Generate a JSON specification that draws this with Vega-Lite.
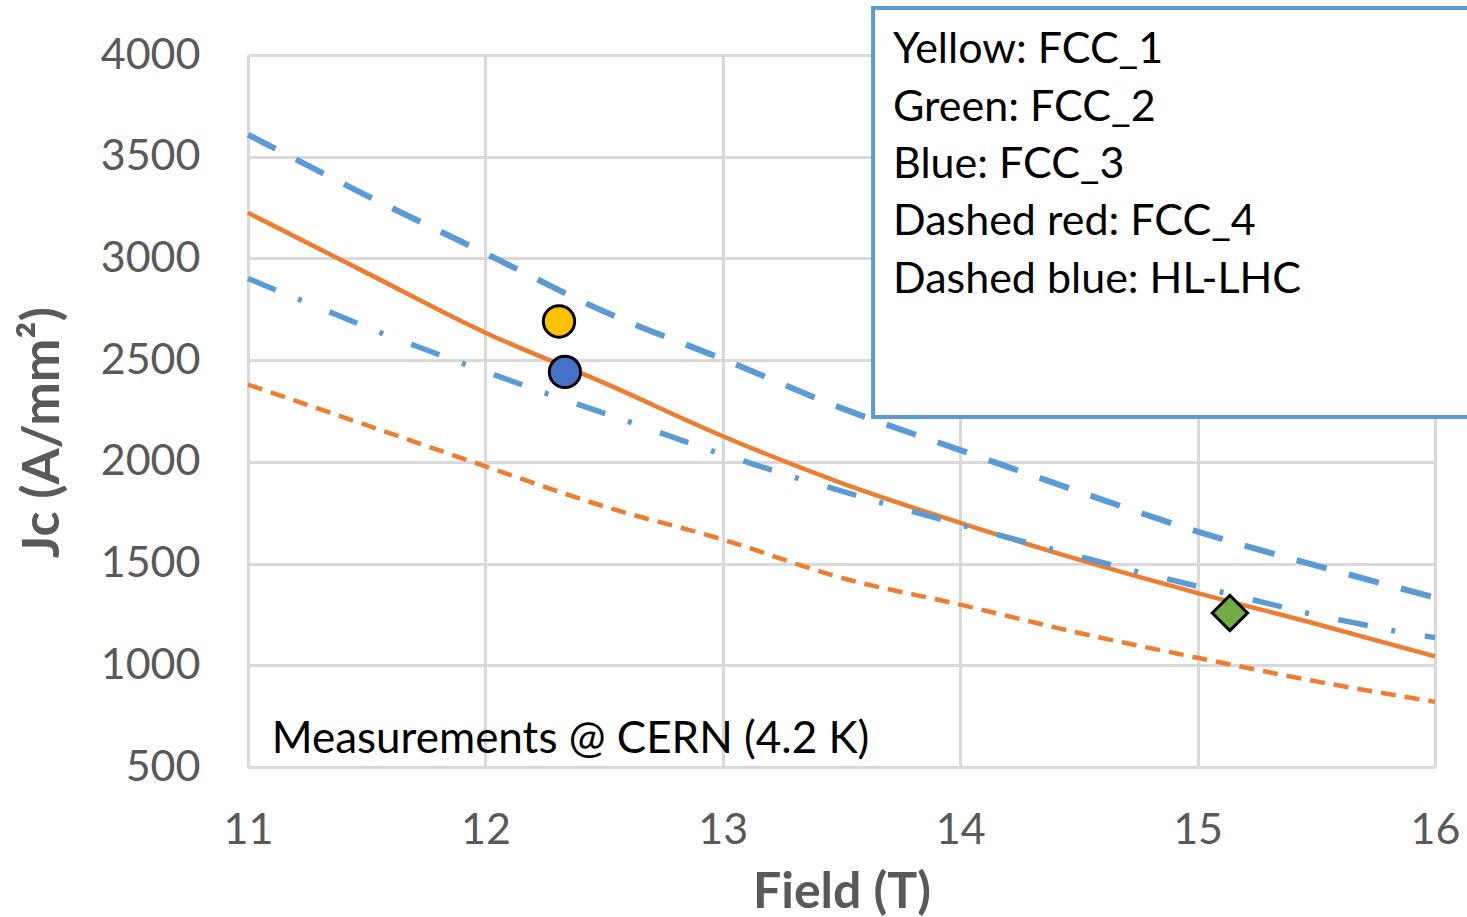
{
  "$schema": "https://vega.github.io/schema/vega-lite/v6.json",
  "width": 1187,
  "height": 712,
  "autosize": {"type": "none"},
  "padding": {"left": 248, "top": 55, "right": 32, "bottom": 150},
  "background": "white",
  "config": {"view": {"stroke": null}, "font": "Lato"},
  "datasets": {
    "curves": [
      {"series": "FCC_4", "field": 11, "jc": 2380},
      {"series": "FCC_4", "field": 11.5, "jc": 2180},
      {"series": "FCC_4", "field": 12, "jc": 1978},
      {"series": "FCC_4", "field": 12.5, "jc": 1781},
      {"series": "FCC_4", "field": 13, "jc": 1618},
      {"series": "FCC_4", "field": 13.5, "jc": 1430},
      {"series": "FCC_4", "field": 14, "jc": 1298},
      {"series": "FCC_4", "field": 14.5, "jc": 1159},
      {"series": "FCC_4", "field": 15, "jc": 1037},
      {"series": "FCC_4", "field": 15.5, "jc": 921},
      {"series": "FCC_4", "field": 16, "jc": 820},
      {"series": "solid", "field": 11, "jc": 3224},
      {"series": "solid", "field": 11.5, "jc": 2929},
      {"series": "solid", "field": 12, "jc": 2635},
      {"series": "solid", "field": 12.5, "jc": 2388},
      {"series": "solid", "field": 13, "jc": 2126},
      {"series": "solid", "field": 13.5, "jc": 1896},
      {"series": "solid", "field": 14, "jc": 1700},
      {"series": "solid", "field": 14.5, "jc": 1519},
      {"series": "solid", "field": 15, "jc": 1355},
      {"series": "solid", "field": 15.5, "jc": 1203},
      {"series": "solid", "field": 16, "jc": 1044},
      {"series": "dashdot", "field": 11, "jc": 2901},
      {"series": "dashdot", "field": 11.226, "jc": 2793},
      {"series": "dashdot", "field": 11.57, "jc": 2629},
      {"series": "dashdot", "field": 11.918, "jc": 2478},
      {"series": "dashdot", "field": 12.269, "jc": 2331},
      {"series": "dashdot", "field": 12.62, "jc": 2191},
      {"series": "dashdot", "field": 12.966, "jc": 2049},
      {"series": "dashdot", "field": 13.325, "jc": 1916},
      {"series": "dashdot", "field": 13.679, "jc": 1795},
      {"series": "dashdot", "field": 14.034, "jc": 1680},
      {"series": "dashdot", "field": 14.393, "jc": 1569},
      {"series": "dashdot", "field": 14.756, "jc": 1457},
      {"series": "dashdot", "field": 15.115, "jc": 1356},
      {"series": "dashdot", "field": 15.473, "jc": 1253},
      {"series": "dashdot", "field": 15.836, "jc": 1167},
      {"series": "dashdot", "field": 16, "jc": 1136},
      {"series": "HL-LHC", "field": 11, "jc": 3609},
      {"series": "HL-LHC", "field": 11.5, "jc": 3309},
      {"series": "HL-LHC", "field": 12, "jc": 3025},
      {"series": "HL-LHC", "field": 12.5, "jc": 2739},
      {"series": "HL-LHC", "field": 13, "jc": 2505},
      {"series": "HL-LHC", "field": 13.5, "jc": 2264},
      {"series": "HL-LHC", "field": 14, "jc": 2058},
      {"series": "HL-LHC", "field": 14.5, "jc": 1854},
      {"series": "HL-LHC", "field": 15, "jc": 1657},
      {"series": "HL-LHC", "field": 15.5, "jc": 1490},
      {"series": "HL-LHC", "field": 16, "jc": 1333}
    ],
    "points": [
      {"name": "FCC_1", "field": 12.31, "jc": 2690},
      {"name": "FCC_3", "field": 12.335, "jc": 2442},
      {"name": "FCC_2", "field": 15.136, "jc": 1257}
    ],
    "box": [
      {"field": 13.633, "field2": 16.23, "jc": 4231, "jc2": 2220}
    ],
    "legendtext": [
      {"label": "Yellow: FCC_1", "field": 13.717, "jc": 3960},
      {"label": "Green: FCC_2", "field": 13.717, "jc": 3678},
      {"label": "Blue: FCC_3", "field": 13.717, "jc": 3395},
      {"label": "Dashed red: FCC_4", "field": 13.717, "jc": 3113},
      {"label": "Dashed blue: HL-LHC", "field": 13.717, "jc": 2830}
    ],
    "note": [
      {"label": "Measurements @ CERN (4.2 K)", "field": 11.1, "jc": 569}
    ]
  },
  "encoding": {
    "x": {
      "field": "field",
      "type": "quantitative",
      "scale": {"domain": [11, 16], "nice": false, "zero": false},
      "axis": {
        "title": "Field (T)",
        "values": [11, 12, 13, 14, 15, 16],
        "grid": true,
        "gridColor": "#d9d9d9",
        "gridWidth": 3,
        "domain": false,
        "ticks": false,
        "tickSize": 0,
        "labelPadding": 42,
        "labelFont": "Lato",
        "labelFontSize": 43,
        "labelColor": "#595959",
        "labelFlush": false,
        "titleFont": "Lato",
        "titleFontSize": 50,
        "titleFontWeight": "bold",
        "titleColor": "#595959",
        "titleBaseline": "alphabetic",
        "titleY": 140
      }
    },
    "y": {
      "field": "jc",
      "type": "quantitative",
      "scale": {"domain": [500, 4000], "nice": false, "zero": false},
      "axis": {
        "title": "Jc (A/mm²)",
        "format": "d",
        "values": [500, 1000, 1500, 2000, 2500, 3000, 3500, 4000],
        "grid": true,
        "gridColor": "#d9d9d9",
        "gridWidth": 3,
        "domain": false,
        "ticks": false,
        "tickSize": 0,
        "labelPadding": 48,
        "labelFont": "Lato",
        "labelFontSize": 43,
        "labelColor": "#595959",
        "labelFlush": false,
        "titleFont": "Lato",
        "titleFontSize": 52,
        "titleFontWeight": "bold",
        "titleColor": "#595959",
        "titleAngle": 270,
        "titleAlign": "center",
        "titleBaseline": "alphabetic",
        "titleX": -190,
        "titleY": 377
      }
    }
  },
  "layer": [
    {
      "data": {"name": "curves"},
      "transform": [{"filter": "datum.series === 'FCC_4'"}],
      "mark": {"type": "line", "color": "#ED7D31", "strokeWidth": 4.5, "strokeDash": [15, 9], "interpolate": "monotone"},
      "encoding": {}
    },
    {
      "data": {"name": "curves"},
      "transform": [{"filter": "datum.series === 'solid'"}],
      "mark": {"type": "line", "color": "#ED7D31", "strokeWidth": 4.5, "interpolate": "monotone"},
      "encoding": {}
    },
    {
      "data": {"name": "curves"},
      "transform": [{"filter": "datum.series === 'dashdot'"}],
      "mark": {"type": "line", "color": "#5B9BD5", "strokeWidth": 5.5, "strokeDash": [30, 24, 4, 30]},
      "encoding": {}
    },
    {
      "data": {"name": "curves"},
      "transform": [{"filter": "datum.series === 'HL-LHC'"}],
      "mark": {"type": "line", "color": "#5B9BD5", "strokeWidth": 6, "strokeDash": [31, 23], "interpolate": "monotone"},
      "encoding": {}
    },
    {
      "data": {"name": "points"},
      "transform": [{"filter": "datum.name !== 'FCC_2'"}],
      "mark": {"type": "point", "shape": "circle", "filled": true, "stroke": "black", "strokeWidth": 3, "size": 980, "opacity": 1},
      "encoding": {
        "color": {
          "field": "name",
          "type": "nominal",
          "scale": {"domain": ["FCC_1", "FCC_2", "FCC_3"], "range": ["#FFC000", "#70AD47", "#4472C4"]},
          "legend": null
        }
      }
    },
    {
      "data": {"name": "points"},
      "transform": [{"filter": "datum.name === 'FCC_2'"}],
      "mark": {"type": "point", "shape": "diamond", "filled": true, "stroke": "black", "strokeWidth": 3, "size": 1250, "opacity": 1},
      "encoding": {
        "color": {
          "field": "name",
          "type": "nominal",
          "scale": {"domain": ["FCC_1", "FCC_2", "FCC_3"], "range": ["#FFC000", "#70AD47", "#4472C4"]},
          "legend": null
        }
      }
    },
    {
      "data": {"name": "box"},
      "mark": {"type": "rect", "fill": "white", "stroke": "#5B9BD5", "strokeWidth": 4},
      "encoding": {
        "x2": {"field": "field2"},
        "y2": {"field": "jc2"}
      }
    },
    {
      "data": {"name": "legendtext"},
      "mark": {"type": "text", "align": "left", "baseline": "alphabetic", "font": "Lato", "fontSize": 43, "color": "black"},
      "encoding": {"text": {"field": "label"}}
    },
    {
      "data": {"name": "note"},
      "mark": {"type": "text", "align": "left", "baseline": "alphabetic", "font": "Lato", "fontSize": 44, "color": "black"},
      "encoding": {"text": {"field": "label"}}
    }
  ]
}
